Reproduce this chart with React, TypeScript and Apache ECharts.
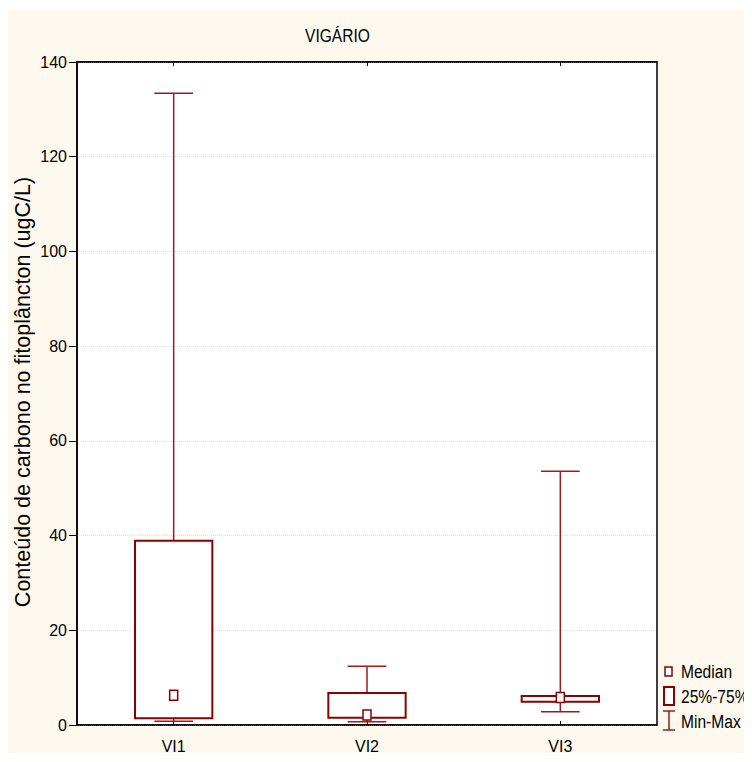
import React, { useEffect, useRef } from "react";
import * as echarts from "echarts";

const categories = ["VI1", "VI2", "VI3"];
const minValues = [0.8, 0.7, 2.8];
const q1Values = [1.4, 1.55, 4.9];
const medianValues = [6.3, 2.1, 5.8];
const q3Values = [38.9, 6.75, 6.1];
const maxValues = [133.4, 12.4, 53.6];
const yMin = 0;
const yMax = 140;
const yStep = 20;

const titleText = "VIGÁRIO";
const yAxisTitle = "Conteúdo de carbono no fitoplâncton (ugC/L)";
const legendLabels = ["Median", "25%-75%", "Min-Max"];

const BOX = "#8b0000";
const WHISK = "#9e1b1b";
const REG = "'Liberation Sans', Arial, sans-serif";
const NARROW_SCALE = 0.82;

export default function App() {
  const ref = useRef<HTMLDivElement>(null);
  useEffect(() => {
    if (!ref.current) return;
    const chart = echarts.init(ref.current, undefined, { renderer: "svg" });
    const data = categories.map((_, i) => [
      i,
      minValues[i],
      q1Values[i],
      medianValues[i],
      q3Values[i],
      maxValues[i],
    ]);
    const legendText = (text: string, y: number) => ({
      type: "text",
      x: 673,
      y,
      scaleX: NARROW_SCALE,
      style: { text, fontFamily: REG, fontSize: 19, fill: "#000", verticalAlign: "middle" },
    });
    const option: any = {
      animation: false,
      backgroundColor: "#fef9ee",
      grid: {
        left: 69,
        right: 95,
        top: 52,
        bottom: 30,
        show: true,
        backgroundColor: "#ffffff",
        borderColor: "#000",
        borderWidth: 1.5,
      },
      xAxis: [
        {
          type: "category",
          data: categories,
          position: "bottom",
          axisLine: { show: true, lineStyle: { color: "#000", width: 1.5 } },
          axisTick: { show: true, inside: true, length: 4, alignWithLabel: true, lineStyle: { color: "#000" } },
          axisLabel: { color: "#000", fontFamily: REG, fontSize: 16, margin: 13 },
          splitLine: { show: false },
        },
        {
          type: "category",
          data: categories,
          position: "top",
          axisLine: { show: true, lineStyle: { color: "#000", width: 1.5 } },
          axisTick: { show: true, inside: true, length: 4, alignWithLabel: true, lineStyle: { color: "#000" } },
          axisLabel: { show: false },
          splitLine: { show: false },
        },
      ],
      yAxis: {
        type: "value",
        min: yMin,
        max: yMax,
        interval: yStep,
        axisLine: { show: true, lineStyle: { color: "#000", width: 1.5 } },
        axisTick: { show: true, inside: false, length: 8, lineStyle: { color: "#000" } },
        axisLabel: { color: "#000", fontFamily: REG, fontSize: 16, margin: 10 },
        splitLine: { show: true, lineStyle: { color: "#e2e2e2", type: "dotted", width: 1 } },
      },
      series: [
        {
          type: "custom",
          xAxisIndex: 0,
          data,
          encode: { x: 0, y: [1, 2, 3, 4, 5] },
          renderItem: (params: any, api: any) => {
            const i = api.value(0);
            const band = api.size([1, 0])[0];
            const x = api.coord([i, 0])[0];
            const pMin = api.coord([i, api.value(1)])[1];
            const pQ1 = api.coord([i, api.value(2)])[1];
            const pMed = api.coord([i, api.value(3)])[1];
            const pQ3 = api.coord([i, api.value(4)])[1];
            const pMax = api.coord([i, api.value(5)])[1];
            const bw = band * 0.4;
            const cw = band * 0.2;
            const ws = { stroke: WHISK, lineWidth: 1.5 };
            return {
              type: "group",
              children: [
                { type: "line", shape: { x1: x, y1: pMax, x2: x, y2: pQ3 }, style: ws },
                { type: "line", shape: { x1: x - cw / 2, y1: pMax, x2: x + cw / 2, y2: pMax }, style: ws },
                { type: "line", shape: { x1: x, y1: pQ1, x2: x, y2: pMin }, style: ws },
                { type: "line", shape: { x1: x - cw / 2, y1: pMin, x2: x + cw / 2, y2: pMin }, style: ws },
                {
                  type: "rect",
                  shape: { x: x - bw / 2, y: pQ3, width: bw, height: pQ1 - pQ3 },
                  style: { fill: "#fff", stroke: BOX, lineWidth: 2 },
                },
                {
                  type: "rect",
                  shape: { x: x - 4, y: pMed - 5, width: 8, height: 10 },
                  style: { fill: "#fff", stroke: BOX, lineWidth: 1.5 },
                },
              ],
            };
          },
        },
      ],
      graphic: [
        {
          type: "text",
          x: 297,
          y: 25,
          scaleX: NARROW_SCALE,
          style: { text: titleText, fontFamily: REG, fontSize: 19, fill: "#000", verticalAlign: "middle" },
        },
        {
          type: "text",
          x: 15,
          y: 382,
          rotation: Math.PI / 2,
          style: {
            text: yAxisTitle,
            fontFamily: REG,
            fontSize: 21.5,
            fill: "#000",
            align: "center",
            verticalAlign: "middle",
          },
        },
        {
          type: "rect",
          shape: { x: 657, y: 657, width: 7, height: 9 },
          style: { fill: "#fff", stroke: BOX, lineWidth: 1.5 },
        },
        legendText(legendLabels[0], 661),
        {
          type: "rect",
          shape: { x: 656, y: 677, width: 10, height: 18 },
          style: { fill: "#fff", stroke: BOX, lineWidth: 2 },
        },
        legendText(legendLabels[1], 686),
        { type: "line", shape: { x1: 661, y1: 701, x2: 661, y2: 720 }, style: { stroke: WHISK, lineWidth: 1.5 } },
        { type: "line", shape: { x1: 655, y1: 701, x2: 667, y2: 701 }, style: { stroke: WHISK, lineWidth: 1.5 } },
        { type: "line", shape: { x1: 655, y1: 720, x2: 667, y2: 720 }, style: { stroke: WHISK, lineWidth: 1.5 } },
        legendText(legendLabels[2], 711),
      ],
    };
    chart.setOption(option);
    return () => chart.dispose();
  }, []);
  return (
    <div style={{ position: "relative", top: 2, width: 744, height: 745 }}>
      <div ref={ref} style={{ width: 744, height: 745 }} />
    </div>
  );
}
